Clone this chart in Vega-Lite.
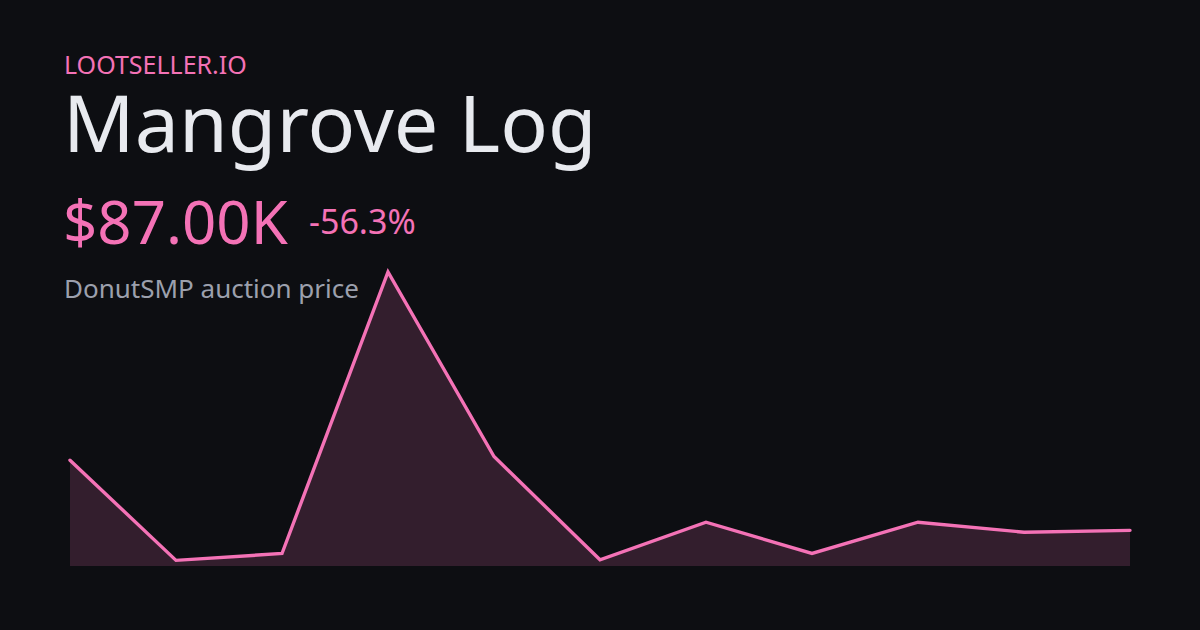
{
  "$schema": "https://vega.github.io/schema/vega-lite/v6.json",
  "width": 1060,
  "height": 294,
  "autosize": {"type": "none"},
  "padding": {"left": 70, "top": 272, "right": 70, "bottom": 64},
  "background": "#0d0e12",
  "config": {"view": {"stroke": null}, "font": "Noto Sans"},
  "data": {"values": [
    {"i": 0, "price": 199},
    {"i": 1, "price": 39},
    {"i": 2, "price": 50},
    {"i": 3, "price": 500},
    {"i": 4, "price": 205},
    {"i": 5, "price": 40},
    {"i": 6, "price": 100},
    {"i": 7, "price": 50},
    {"i": 8, "price": 100},
    {"i": 9, "price": 84},
    {"i": 10, "price": 87}
  ]},
  "layer": [
    {
      "mark": {"type": "area", "color": "#f472b6", "opacity": 0.17},
      "encoding": {
        "x": {"field": "i", "type": "quantitative", "axis": null, "scale": {"domain": [0, 10], "nice": false}},
        "y": {"field": "price", "type": "quantitative", "axis": null, "scale": {"domain": [30, 500], "nice": false, "zero": false}},
        "y2": {"datum": 30}
      }
    },
    {
      "mark": {"type": "line", "color": "#f472b6", "strokeWidth": 3.4, "strokeJoin": "miter", "strokeCap": "round"},
      "encoding": {
        "x": {"field": "i", "type": "quantitative"},
        "y": {"field": "price", "type": "quantitative"}
      }
    },
    {
      "data": {"values": [{"t": "LOOTSELLER.IO"}]},
      "mark": {"type": "text", "x": -6, "y": -198, "align": "left", "baseline": "alphabetic", "fontSize": 25, "color": "#f472b6"},
      "encoding": {"text": {"field": "t"}}
    },
    {
      "data": {"values": [{"t": "Mangrove Log"}]},
      "mark": {"type": "text", "x": -7, "y": -120, "align": "left", "baseline": "alphabetic", "fontSize": 79, "color": "#e8eaef"},
      "encoding": {"text": {"field": "t"}}
    },
    {
      "data": {"values": [{"t": "$87.00K"}]},
      "mark": {"type": "text", "x": -7, "y": -28, "align": "left", "baseline": "alphabetic", "fontSize": 60, "color": "#f472b6"},
      "encoding": {"text": {"field": "t"}}
    },
    {
      "data": {"values": [{"t": "-56.3%"}]},
      "mark": {"type": "text", "x": 239, "y": -38, "align": "left", "baseline": "alphabetic", "fontSize": 34, "color": "#f472b6"},
      "encoding": {"text": {"field": "t"}}
    },
    {
      "data": {"values": [{"t": "DonutSMP auction price"}]},
      "mark": {"type": "text", "x": -6, "y": 26, "align": "left", "baseline": "alphabetic", "fontSize": 26, "color": "#9ca0ad"},
      "encoding": {"text": {"field": "t"}}
    }
  ]
}
